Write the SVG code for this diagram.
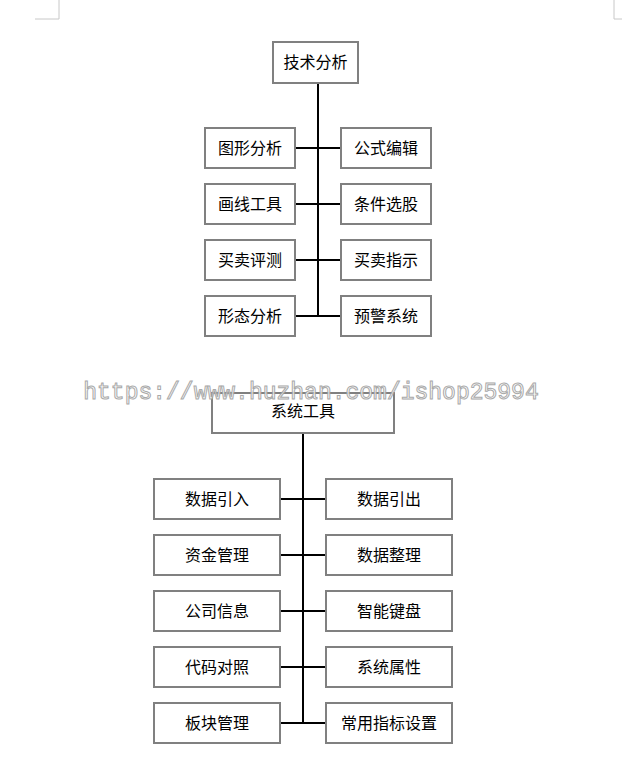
<svg xmlns="http://www.w3.org/2000/svg" width="622" height="777" viewBox="0 0 622 777">
<style>
.b{fill:#fff;stroke:#808080;stroke-width:2}
.t{font-family:"Noto Sans CJK SC",sans-serif;font-size:16px;text-anchor:middle;fill:#000}
.c{stroke:#000;stroke-width:2;fill:none}
.m{stroke:#c8c8c8;stroke-width:1;fill:none}
</style>
<rect width="622" height="777" fill="#fff"/>
<path class="m" d="M59 0V19H35M614 0V19H622"/>
<g id="connectors">
<path class="c" d="M318 83V317M295 148H341M295 204H341M295 260H341M295 316H341"/>
<path class="c" d="M303 433V723M280 499H326M280 555H326M280 611H326M280 667H326M280 723H326"/>
</g>
<g id="n0"><rect class="b" x="273" y="42" width="85" height="41"/><text class="t" x="315.5" y="68">技术分析</text></g>
<g id="n1"><rect class="b" x="205" y="128" width="90" height="40"/><text class="t" x="250" y="154">图形分析</text></g>
<g id="n2"><rect class="b" x="341" y="128" width="90" height="40"/><text class="t" x="386" y="154">公式编辑</text></g>
<g id="n3"><rect class="b" x="205" y="184" width="90" height="40"/><text class="t" x="250" y="210">画线工具</text></g>
<g id="n4"><rect class="b" x="341" y="184" width="90" height="40"/><text class="t" x="386" y="210">条件选股</text></g>
<g id="n5"><rect class="b" x="205" y="240" width="90" height="40"/><text class="t" x="250" y="266">买卖评测</text></g>
<g id="n6"><rect class="b" x="341" y="240" width="90" height="40"/><text class="t" x="386" y="266">买卖指示</text></g>
<g id="n7"><rect class="b" x="205" y="296" width="90" height="40"/><text class="t" x="250" y="322">形态分析</text></g>
<g id="n8"><rect class="b" x="341" y="296" width="90" height="40"/><text class="t" x="386" y="322">预警系统</text></g>
<g id="s0"><rect class="b" x="212" y="393" width="182" height="40"/><text class="t" x="303" y="417">系统工具</text></g>
<g id="s1"><rect class="b" x="154" y="479" width="126" height="40"/><text class="t" x="217" y="505">数据引入</text></g>
<g id="s2"><rect class="b" x="326" y="479" width="126" height="40"/><text class="t" x="389" y="505">数据引出</text></g>
<g id="s3"><rect class="b" x="154" y="535" width="126" height="40"/><text class="t" x="217" y="561">资金管理</text></g>
<g id="s4"><rect class="b" x="326" y="535" width="126" height="40"/><text class="t" x="389" y="561">数据整理</text></g>
<g id="s5"><rect class="b" x="154" y="591" width="126" height="40"/><text class="t" x="217" y="617">公司信息</text></g>
<g id="s6"><rect class="b" x="326" y="591" width="126" height="40"/><text class="t" x="389" y="617">智能键盘</text></g>
<g id="s7"><rect class="b" x="154" y="647" width="126" height="40"/><text class="t" x="217" y="673">代码对照</text></g>
<g id="s8"><rect class="b" x="326" y="647" width="126" height="40"/><text class="t" x="389" y="673">系统属性</text></g>
<g id="s9"><rect class="b" x="154" y="703" width="126" height="40"/><text class="t" x="217" y="729">板块管理</text></g>
<g id="s10"><rect class="b" x="326" y="703" width="126" height="40"/><text class="t" x="389" y="729">常用指标设置</text></g>
<text x="311" y="399" font-family="Liberation Mono,monospace" font-size="23" text-anchor="middle" fill="#fff" stroke="#a0a0a0" stroke-width="1" opacity="0.9">https://www.huzhan.com/ishop25994</text>
</svg>
